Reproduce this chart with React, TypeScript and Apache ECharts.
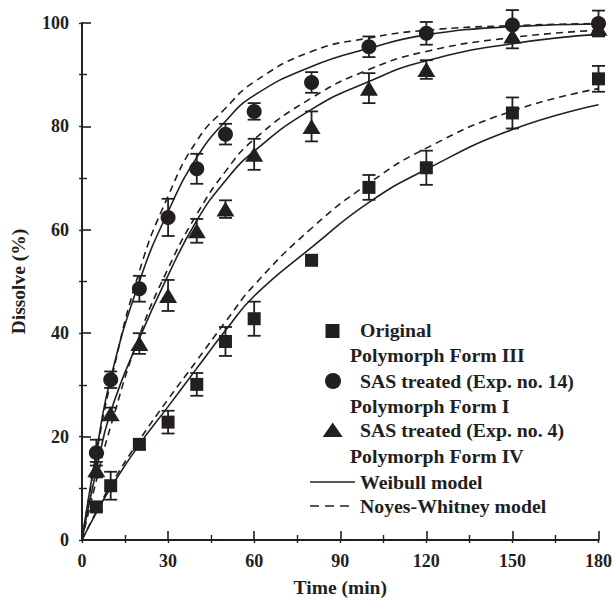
import React, { useEffect, useRef } from "react";
import * as echarts from "echarts";

// ---- data ----
const sampleTimes = [5, 10, 20, 30, 40, 50, 60, 80, 100, 120, 150, 180];

const originalMean = [6.4, 10.5, 18.5, 22.8, 30.1, 38.4, 42.8, 54.1, 68.2, 72.0, 82.6, 89.2];
const originalErr = [0.8, 2.7, 0.8, 2.2, 2.2, 2.8, 3.3, 0.5, 2.4, 3.3, 3.0, 2.5];

const sas14Mean = [16.9, 31.0, 48.6, 62.4, 71.8, 78.5, 82.9, 88.5, 95.4, 98.0, 99.6, 99.9];
const sas14Err = [2.5, 1.6, 2.5, 3.6, 2.9, 2.0, 1.6, 2.0, 2.0, 2.2, 2.9, 2.5];

const sas4Mean = [13.6, 24.4, 38.0, 47.3, 59.8, 64.0, 74.6, 80.0, 87.4, 91.0, 97.5, 99.0];
const sas4Err = [1.5, 1.2, 2.0, 3.0, 2.3, 1.7, 3.0, 2.9, 2.9, 1.8, 2.4, 1.5];

const modelTimes = [0, 5, 10, 20, 30, 40, 50, 60, 80, 100, 120, 150, 180];
const originalWeibull = [0, 5.3, 10.1, 18.5, 25.8, 33.2, 40.5, 47.2, 56.6, 65.3, 71.7, 79.4, 84.2];
const originalNoyes = [0, 5.5, 10.6, 19.3, 27.2, 34.7, 42.2, 49.3, 60.3, 69.0, 75.8, 83.0, 87.3];
const sas14Weibull = [0, 17.0, 31.3, 50.0, 63.5, 74.0, 81.0, 86.0, 91.6, 95.1, 97.7, 99.3, 99.8];
const sas14Noyes = [0, 16.5, 30.5, 52.0, 66.5, 77.2, 83.5, 88.6, 94.5, 97.1, 98.6, 99.5, 99.9];
const sas4Weibull = [0, 13.5, 24.8, 39.0, 51.2, 61.8, 69.5, 75.2, 83.3, 88.7, 92.7, 96.0, 97.8];
const sas4Noyes = [0, 11.5, 22.0, 39.5, 52.5, 63.0, 71.3, 77.5, 85.5, 91.0, 94.5, 97.2, 98.6];

const xTicks = { min: 0, max: 180, interval: 30 };
const yTicks = { min: 0, max: 100, interval: 20 };

const INK = "#231f20";
const FONT = "'Liberation Serif', 'Times New Roman', serif";

const pairs = (xs: number[], ys: number[]) => xs.map((x, i) => [x, ys[i]]);
const errPairs = (xs: number[], m: number[], e: number[]) =>
  xs.map((x, i) => [x, m[i] - e[i], m[i] + e[i]]);

const errorRender = (params: any, api: any) => {
  const x = api.value(0);
  const lo = api.coord([x, api.value(1)]);
  const hi = api.coord([x, api.value(2)]);
  const hw = 6.5;
  const st = { stroke: INK, lineWidth: 1.8 };
  return {
    type: "group",
    children: [
      { type: "line", shape: { x1: lo[0], y1: lo[1], x2: hi[0], y2: hi[1] }, style: st },
      { type: "line", shape: { x1: lo[0] - hw, y1: lo[1], x2: lo[0] + hw, y2: lo[1] }, style: st },
      { type: "line", shape: { x1: hi[0] - hw, y1: hi[1], x2: hi[0] + hw, y2: hi[1] }, style: st },
    ],
  };
};

const modelLine = (name: string, ys: number[], dashed: boolean) => ({
  name,
  type: "line",
  data: pairs(modelTimes, ys),
  smooth: 0.5,
  symbol: "none",
  z: 2,
  lineStyle: { color: INK, width: 1.6, type: dashed ? [7, 5] : "solid" },
});

const errSeries = (m: number[], e: number[]) => ({
  type: "custom",
  renderItem: errorRender,
  data: errPairs(sampleTimes, m, e),
  encode: { x: 0, y: [1, 2] },
  clip: false,
  z: 3,
});

const pointSeries = (name: string, m: number[], symbol: string, size: any) => ({
  name,
  type: "scatter",
  data: pairs(sampleTimes, m),
  symbol,
  symbolSize: size,
  itemStyle: { color: INK, opacity: 1 },
  clip: false,
  z: 4,
});

const legendText = (text: string, x: number, y: number) => ({
  type: "text",
  x,
  y,
  style: {
    text,
    fill: INK,
    font: `bold 19.8px ${FONT}`,
    verticalAlign: "middle",
    align: "left",
  },
});

export default function App() {
  const ref = useRef<HTMLDivElement>(null);
  useEffect(() => {
    if (!ref.current) return;
    const chart = echarts.init(ref.current, undefined, { renderer: "svg" });
    const axisLabelStyle = {
      color: INK,
      fontFamily: FONT,
      fontWeight: "bold",
      fontSize: 18,
    };
    chart.setOption({
      animation: false,
      backgroundColor: "#ffffff",
      grid: { left: 81.7, right: 13.3, top: 23, bottom: 59.3, containLabel: false },
      xAxis: [
        {
          type: "value",
          min: xTicks.min,
          max: xTicks.max,
          interval: xTicks.interval,
          name: "Time (min)",
          nameLocation: "middle",
          nameGap: 37,
          nameTextStyle: { color: INK, fontFamily: FONT, fontWeight: "bold", fontSize: 19.5 },
          axisLine: { show: true, lineStyle: { color: INK, width: 1.8 } },
          axisTick: { show: true, inside: true, length: 9, lineStyle: { color: INK, width: 1.6 } },
          minorTick: { show: true, splitNumber: 2, length: 5, lineStyle: { color: INK, width: 1.4 } },
          axisLabel: { ...axisLabelStyle, margin: 12 },
          splitLine: { show: false },
        },
        {
          type: "value",
          position: "top",
          min: 0,
          max: 180,
          interval: 15,
          axisLine: { show: true, lineStyle: { color: INK, width: 1.6 } },
          axisTick: { show: true, inside: true, length: 3, lineStyle: { color: INK, width: 1.4 } },
          axisLabel: { show: false },
          splitLine: { show: false },
        },
      ],
      yAxis: [
        {
          type: "value",
          min: yTicks.min,
          max: yTicks.max,
          interval: yTicks.interval,
          name: "Dissolve (%)",
          nameLocation: "middle",
          nameGap: 54,
          nameTextStyle: { color: INK, fontFamily: FONT, fontWeight: "bold", fontSize: 19.5 },
          axisLine: { show: true, lineStyle: { color: INK, width: 1.8 } },
          axisTick: { show: true, inside: true, length: 9, lineStyle: { color: INK, width: 1.6 } },
          minorTick: { show: true, splitNumber: 2, length: 5, lineStyle: { color: INK, width: 1.4 } },
          axisLabel: { ...axisLabelStyle, margin: 13 },
          splitLine: { show: false },
        },
        {
          type: "value",
          position: "right",
          min: 0,
          max: 100,
          interval: 10,
          axisLine: { show: true, lineStyle: { color: INK, width: 1.6 } },
          axisTick: { show: true, inside: true, length: 3, lineStyle: { color: INK, width: 1.4 } },
          axisLabel: { show: false },
          splitLine: { show: false },
        },
      ],
      series: [
        modelLine("Original Weibull", originalWeibull, false),
        modelLine("Original Noyes-Whitney", originalNoyes, true),
        modelLine("SAS 14 Weibull", sas14Weibull, false),
        modelLine("SAS 14 Noyes-Whitney", sas14Noyes, true),
        modelLine("SAS 4 Weibull", sas4Weibull, false),
        modelLine("SAS 4 Noyes-Whitney", sas4Noyes, true),
        errSeries(originalMean, originalErr),
        errSeries(sas14Mean, sas14Err),
        errSeries(sas4Mean, sas4Err),
        pointSeries("Original", originalMean, "rect", 13),
        pointSeries("SAS treated (Exp. no. 14)", sas14Mean, "circle", 15),
        pointSeries("SAS treated (Exp. no. 4)", sas4Mean, "triangle", [18, 15]),
      ],
      graphic: [
        { type: "rect", shape: { x: 325.5, y: 324, width: 14, height: 14 }, style: { fill: INK } },
        legendText("Original", 360, 330),
        legendText("Polymorph Form III", 350, 355),
        { type: "circle", shape: { cx: 333, cy: 381, r: 8 }, style: { fill: INK } },
        legendText("SAS treated (Exp. no. 14)", 360, 381),
        legendText("Polymorph Form I", 350, 406),
        {
          type: "polygon",
          shape: { points: [[332.7, 422.5], [342.7, 437], [322.7, 437]] },
          style: { fill: INK },
        },
        legendText("SAS treated (Exp. no. 4)", 360, 430),
        legendText("Polymorph Form IV", 350, 456),
        {
          type: "line",
          shape: { x1: 310, y1: 482, x2: 355, y2: 482 },
          style: { stroke: INK, lineWidth: 1.6 },
        },
        legendText("Weibull model", 360, 482),
        {
          type: "line",
          shape: { x1: 310, y1: 506, x2: 355, y2: 506 },
          style: { stroke: INK, lineWidth: 1.6, lineDash: [9, 6] },
        },
        legendText("Noyes-Whitney model", 360, 506),
      ],
    });
    return () => chart.dispose();
  }, []);
  return (
    <div
      ref={ref}
      style={{ position: "fixed", left: 0, top: 0, width: 615, height: 602 }}
    />
  );
}
